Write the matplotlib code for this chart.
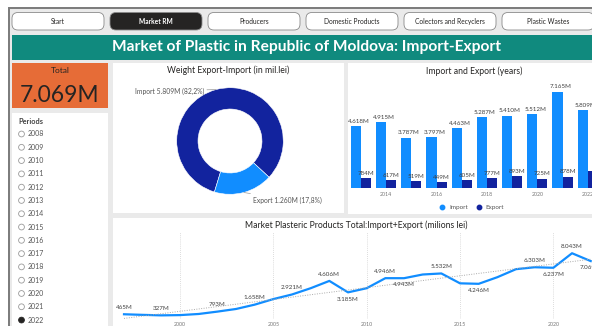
import matplotlib.pyplot as plt
import numpy as np
from matplotlib.lines import Line2D
from matplotlib.patches import Circle, FancyBboxPatch, Rectangle

plt.rcParams["font.family"] = ["Lato", "DejaVu Sans"]

W, H = 592, 326

# navigation / slicer
nav_buttons = ["Start", "Market RM", "Producers", "Domestic Products",
               "Colectors and Recyclers", "Plastic Wastes"]
active_button = "Market RM"
periods = ["2008", "2009", "2010", "2011", "2012", "2013", "2014", "2015",
           "2016", "2017", "2018", "2019", "2020", "2021", "2022"]
selected_period = "2022"
total_label = "7.069M"

# donut
donut_names = ["Import", "Export"]
donut_values = [5.809, 1.260]

# bars (millions lei)
bar_years = [2013, 2014, 2015, 2016, 2017, 2018, 2019, 2020, 2021, 2022]
imports = [4.618, 4.915, 3.787, 3.797, 4.463, 5.287, 5.410, 5.512, 7.165, 5.809]
exports = [0.784, 0.617, 0.519, 0.449, 0.605, 0.777, 0.893, 0.725, 0.878, 1.260]
bar_tick_years = [2014, 2016, 2018, 2020, 2022]

# line: total import+export
line_years = [1997, 1998, 1999, 2000, 2001, 2002, 2003, 2004, 2005, 2006, 2007,
              2008, 2009, 2010, 2011, 2012, 2013, 2014, 2015, 2016, 2017, 2018,
              2019, 2020, 2021, 2022]
line_totals = [0.465, 0.39, 0.327, 0.36, 0.50, 0.793, 1.12, 1.658, 2.35, 2.921,
               3.70, 4.606, 3.185, 3.70, 4.946, 4.943, 5.402, 5.532, 4.306,
               4.246, 5.068, 6.064, 6.303, 6.237, 8.043, 7.069]
label_above = [1997, 1999, 2002, 2004, 2006, 2008, 2011, 2014, 2019, 2021]
label_below = [2009, 2012, 2016, 2020, 2022]
line_tick_years = [2000, 2005, 2010, 2015, 2020]

BLUE = "#118DFF"
NAVY = "#12239E"
ORANGE = "#E66C37"
TEAL = "#108A7E"
TXT = "#252423"


def fmt(v):
    return f"{v:.3f}M" if v >= 1 else f"{v * 1000:.0f}M"


def px_axes(fig, x0, y0, x1, y1):
    return fig.add_axes([x0 / W, 1 - y1 / H, (x1 - x0) / W, (y1 - y0) / H])


fig = plt.figure(figsize=(W / 100, H / 100), dpi=100, facecolor="white")

# ---- background, frame, buttons, title, left panels (pixel coords)
bg = fig.add_axes([0, 0, 1, 1])
bg.set_xlim(0, W)
bg.set_ylim(H, 0)
bg.axis("off")

bg.add_patch(Rectangle((9, 8), 600, 330, facecolor="#EAEAEA",
                       edgecolor="#7A7A7A", lw=1.4))

for i, name in enumerate(nav_buttons):
    x0 = 12 + 98 * i
    active = name == active_button
    bg.add_patch(FancyBboxPatch((x0, 12.5), 92, 17.5,
                                boxstyle="round,pad=0,rounding_size=6",
                                facecolor=TXT if active else "white",
                                edgecolor="#8A8A8A", lw=0.6))
    bg.text(x0 + 46, 21.5, name, ha="center", va="center", fontsize=4.8,
            color="white" if active else TXT,
            fontweight="bold" if active else "normal")

bg.add_patch(Rectangle((12, 35), 590, 25, facecolor=TEAL, edgecolor="none"))
bg.text(306, 47.5, "Market of Plastic in Republic of Moldova: Import-Export",
        ha="center", va="center", fontsize=11.2, fontweight="bold", color="white")

bg.add_patch(Rectangle((12, 63), 96, 45, facecolor=ORANGE, edgecolor="none"))
bg.text(60, 70.5, "Total", ha="center", va="center", fontsize=6, color=TXT)
bg.text(60, 95.5, total_label, ha="center", va="center", fontsize=16.5, color=TXT)

bg.add_patch(Rectangle((12, 113), 96, 220, facecolor="white", edgecolor="none"))
bg.text(18, 121.5, "Periods", ha="left", va="center", fontsize=5.3,
        fontweight="bold", color="#444444")
for i, p in enumerate(periods):
    y = 134 + 13.29 * i
    sel = p == selected_period
    bg.add_patch(Circle((21.5, y), 2.9, facecolor=TXT if sel else "white",
                        edgecolor=TXT if sel else "#9A9A9A", lw=0.6))
    bg.text(28, y, p, ha="left", va="center", fontsize=5, color="#555555")

# white panels
bg.add_patch(Rectangle((113, 63), 231, 150, facecolor="white", edgecolor="none"))
bg.add_patch(Rectangle((348, 63), 260, 151, facecolor="white", edgecolor="none"))
bg.add_patch(Rectangle((113, 218), 500, 120, facecolor="white", edgecolor="none"))

bg.text(228.5, 70.5, "Weight Export-Import (in mil.lei)", ha="center",
        va="center", fontsize=6.2, color=TXT)
bg.text(474, 71, "Import and Export (years)", ha="center", va="center",
        fontsize=6.2, color=TXT)
bg.text(356, 225, "Market Plasteric Products Total:Import+Export (milions lei)",
        ha="center", va="center", fontsize=6.2, color=TXT)

# ---- donut
ax_d = px_axes(fig, 176.7, 87.7, 283.3, 194.3)
wedges, _ = ax_d.pie(donut_values, colors=[NAVY, BLUE], startangle=-107,
                     counterclock=False, radius=1,
                     wedgeprops=dict(width=0.4, edgecolor="white", linewidth=0.4))
ax_d.set_xlim(-1, 1)
ax_d.set_ylim(-1, 1)
ax_d.axis("off")
share = np.array(donut_values) / sum(donut_values) * 100
offsets = [(-8.6, -1.0), (6.5, -5.4)]
for w, name, v, s, off in zip(wedges, donut_names, donut_values, share, offsets):
    mid = np.deg2rad((w.theta1 + w.theta2) / 2)
    pct = f"{s:.1f}".replace(".", ",")
    ax_d.annotate(f"{name} {fmt(v)} ({pct}%)", xy=(np.cos(mid), np.sin(mid)),
                  xytext=off, textcoords="offset points",
                  ha="right" if off[0] < 0 else "left",
                  va="center", fontsize=4.9, color="#555555",
                  arrowprops=dict(arrowstyle="-", color="#999999", lw=0.5,
                                  shrinkA=0, shrinkB=0), annotation_clip=False)

# ---- bars
ax_b = px_axes(fig, 348, 80, 592, 188.3)
idx = np.arange(len(bar_years))
ax_b.bar(idx - 0.2, imports, width=0.4, color=BLUE)
ax_b.bar(idx + 0.2, exports, width=0.4, color=NAVY)
for i, (a, b) in enumerate(zip(imports, exports)):
    ax_b.annotate(fmt(a), (i - 0.2, a), xytext=(2, 2), textcoords="offset points",
                  ha="center", va="bottom", fontsize=4.5, color="#404040")
    ax_b.annotate(fmt(b), (i + 0.2, b), xytext=(0, 1.5), textcoords="offset points",
                  ha="center", va="bottom", fontsize=4.5, color="#404040")
ax_b.set_xlim(-0.516, 9.17)
ax_b.set_ylim(0, 8.08)
ax_b.set_xticks([bar_years.index(y) for y in bar_tick_years])
ax_b.set_xticklabels([str(y) for y in bar_tick_years], fontsize=3.8, color="#777777")
ax_b.tick_params(axis="x", length=0, pad=2.5)
ax_b.set_yticks([])
for s in ax_b.spines.values():
    s.set_visible(False)
ax_b.patch.set_alpha(0)
handles = [Line2D([], [], marker="o", ls="none", color=c, markersize=3.2)
           for c in (BLUE, NAVY)]
ax_b.legend(handles, ["Import", "Export"], loc="center", ncol=2,
            bbox_to_anchor=(0.5, -0.175), frameon=False, fontsize=4.5,
            handletextpad=0.1, columnspacing=0.8, labelcolor="#555555")

# ---- line
ax_l = px_axes(fig, 113, 232, 592, 319)
ax_l.plot(line_years, line_totals, color=BLUE, lw=1.6, solid_joinstyle="round")
coef = np.polyfit(line_years, line_totals, 1)
ax_l.plot(line_years, np.polyval(coef, line_years), color="#AAAAAA", lw=0.7,
          ls=(0, (1, 1.5)))
for yr, v in zip(line_years, line_totals):
    if yr in label_above:
        ax_l.annotate(fmt(v), (yr, v), xytext=(0, 3), textcoords="offset points",
                      ha="center", va="bottom", fontsize=4.5, color="#404040")
    elif yr in label_below:
        ax_l.annotate(fmt(v), (yr, v), xytext=(0, -3), textcoords="offset points",
                      ha="center", va="top", fontsize=4.5, color="#404040",
                      annotation_clip=False)
ax_l.set_xlim(1996.41, 2022.07)
ax_l.set_ylim(-0.124, 10.68)
ax_l.set_xticks(line_tick_years)
ax_l.set_xticklabels([str(y) for y in line_tick_years], fontsize=3.8, color="#777777")
ax_l.tick_params(axis="x", length=0, pad=2.5)
ax_l.set_yticks([])
ax_l.grid(axis="x", color="#D0D0D0", lw=0.6, ls=(0, (1, 1.5)))
for s in ax_l.spines.values():
    s.set_visible(False)
ax_l.patch.set_alpha(0)

fig.savefig("out.png", dpi=100, facecolor="white")
